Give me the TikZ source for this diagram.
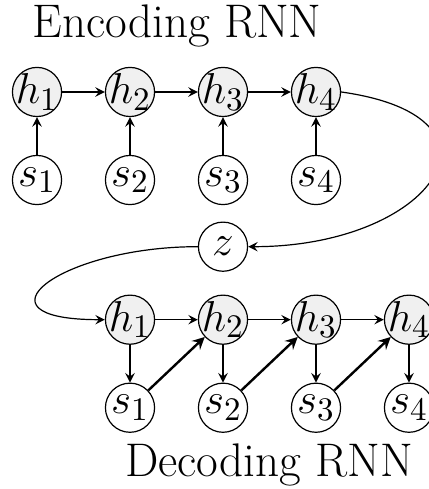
\documentclass[tikz,border=0pt]{standalone}
\usetikzlibrary{positioning}

\begin{document}
\begin{tikzpicture}[on grid, node distance=1.03cm and 1.088cm]
    \tikzset{myarrow/.style={->, >=stealth}}
    \tikzset{hidden/.style={circle, draw, fill=gray!12, minimum size=0.575cm, inner sep=-1.5pt, font=\fontsize{15}{18}\selectfont}}
    \tikzset{seen/.style={circle, draw, minimum size=0.575cm, inner sep=-1.5pt, font=\fontsize{15}{18}\selectfont}}
    \tikzset{caption/.style={font=\fontsize{15.7}{19}\selectfont, anchor=base}}
    \useasboundingbox (-0.433,1.076) rectangle (4.575,-4.645);

    % encoding rnn
    \draw node[hidden] (eh1) {$h_1$};
    \draw node[hidden, right=of eh1] (eh2) {$h_2$};
    \draw node[hidden, right=of eh2] (eh3) {$h_3$};
    \draw node[hidden, right=of eh3] (eh4) {$h_4$};
    \draw node[seen, below=of eh1] (es1) {$s_1$};
    \draw node[seen, below=of eh2] (es2) {$s_2$};
    \draw node[seen, below=of eh3] (es3) {$s_3$};
    \draw node[seen, below=of eh4] (es4) {$s_4$};
    \draw node[caption] (enctitle) at (1.638,0.632) {Encoding RNN};

    % latent
    \draw node[seen, below=1.81cm of eh3] (z) {$z$};

    % decoding rnn
    \draw node[hidden, below=0.854cm of z] (dh2) {$h_2$};
    \draw node[hidden, left=of dh2] (dh1) {$h_1$};
    \draw node[hidden, right=of dh2] (dh3) {$h_3$};
    \draw node[hidden, right=of dh3] (dh4) {$h_4$};
    \draw node[seen, below=of dh1] (ds1) {$s_1$};
    \draw node[seen, below=of dh2] (ds2) {$s_2$};
    \draw node[seen, below=of dh3] (ds3) {$s_3$};
    \draw node[seen, below=of dh4] (ds4) {$s_4$};
    \draw node[caption] (dectitle) at (2.714,-4.5) {Decoding RNN};

    \foreach \i/\j in {1/2, 2/3, 3/4} {
        \draw[myarrow] (eh\i) -- (eh\j);
        \draw[myarrow] (dh\i) -- (dh\j);
        \draw[myarrow, thick] (ds\i) -- (dh\j);
    }
    \foreach \i in {1,...,4} {
        \draw[myarrow] (es\i) -- (eh\i);
        \draw[myarrow] (dh\i) -- (ds\i);
    }

    \draw[myarrow] (eh4.east) to[out=-8, in=0, looseness=2.6] (z.east);
    \draw[myarrow] (z.west) to[out=180, in=180, looseness=3.0] (dh1.west);
\end{tikzpicture}
\end{document}
